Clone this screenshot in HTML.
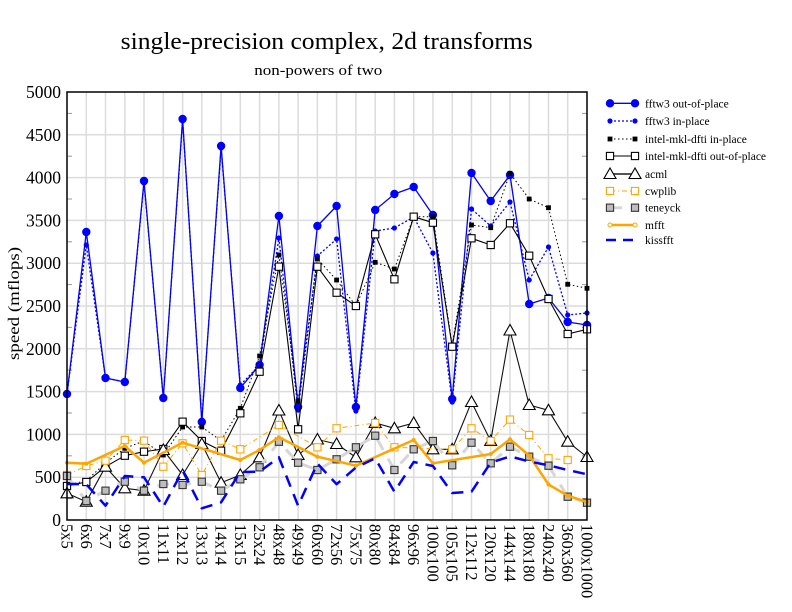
<!DOCTYPE html>
<html>
<head>
<meta charset="utf-8">
<style>
html,body{margin:0;padding:0;background:#fff;}
svg{display:block;}
text{font-family:"Liberation Serif","Times New Roman",serif;fill:#000;}
</style>
</head>
<body>
<svg width="792" height="612" viewBox="0 0 792 612" xmlns="http://www.w3.org/2000/svg">
<defs>
  <marker id="mFO" markerUnits="userSpaceOnUse" markerWidth="12" markerHeight="12" refX="6" refY="6" viewBox="0 0 12 12" overflow="visible"><circle cx="6" cy="6" r="4.2" fill="#0000ff"/></marker>
  <marker id="mFI" markerUnits="userSpaceOnUse" markerWidth="12" markerHeight="12" refX="6" refY="6" viewBox="0 0 12 12" overflow="visible"><circle cx="6" cy="6" r="2.6" fill="#0000ff"/></marker>
  <marker id="mII" markerUnits="userSpaceOnUse" markerWidth="12" markerHeight="12" refX="6" refY="6" viewBox="0 0 12 12" overflow="visible"><rect x="3.6" y="3.6" width="4.8" height="4.8" fill="#000"/></marker>
  <marker id="mIO" markerUnits="userSpaceOnUse" markerWidth="12" markerHeight="12" refX="6" refY="6" viewBox="0 0 12 12" overflow="visible"><rect x="2.4" y="2.4" width="7.2" height="7.2" fill="#fff" stroke="#000" stroke-width="1.1"/></marker>
  <marker id="mAC" markerUnits="userSpaceOnUse" markerWidth="14" markerHeight="14" refX="7" refY="7" viewBox="0 0 14 14" overflow="visible"><polygon points="7,1 1,11.5 13,11.5" fill="#fff" stroke="#000" stroke-width="1.1"/></marker>
  <marker id="mCW" markerUnits="userSpaceOnUse" markerWidth="12" markerHeight="12" refX="6" refY="6" viewBox="0 0 12 12" overflow="visible"><rect x="2.4" y="2.4" width="7.2" height="7.2" fill="#fff" stroke="#ffa500" stroke-width="1.1"/></marker>
  <marker id="mTE" markerUnits="userSpaceOnUse" markerWidth="12" markerHeight="12" refX="6" refY="6" viewBox="0 0 12 12" overflow="visible"><rect x="2.4" y="2.4" width="7.2" height="7.2" fill="#bdbdbd" stroke="#333" stroke-width="1.1"/></marker>
  <marker id="mMF" markerUnits="userSpaceOnUse" markerWidth="8" markerHeight="8" refX="4" refY="4" viewBox="0 0 8 8" overflow="visible"><circle cx="4" cy="4" r="2" fill="#ffa500"/></marker>
</defs>

<!-- title -->
<text x="120.7" y="49" font-size="24" textLength="412" lengthAdjust="spacingAndGlyphs">single-precision complex, 2d transforms</text>
<text x="254.3" y="75" font-size="15" textLength="128" lengthAdjust="spacingAndGlyphs">non-powers of two</text>

<!-- grid -->
<g stroke="#dcdcdc" stroke-width="1.5" fill="none">
  <line x1="67" y1="477.2" x2="587" y2="477.2"/>
  <line x1="67" y1="434.4" x2="587" y2="434.4"/>
  <line x1="67" y1="391.6" x2="587" y2="391.6"/>
  <line x1="67" y1="348.8" x2="587" y2="348.8"/>
  <line x1="67" y1="306" x2="587" y2="306"/>
  <line x1="67" y1="263.2" x2="587" y2="263.2"/>
  <line x1="67" y1="220.4" x2="587" y2="220.4"/>
  <line x1="67" y1="177.6" x2="587" y2="177.6"/>
  <line x1="67" y1="134.8" x2="587" y2="134.8"/>
  <line x1="86.3" y1="92" x2="86.3" y2="520"/>
  <line x1="105.5" y1="92" x2="105.5" y2="520"/>
  <line x1="124.8" y1="92" x2="124.8" y2="520"/>
  <line x1="144" y1="92" x2="144" y2="520"/>
  <line x1="163.3" y1="92" x2="163.3" y2="520"/>
  <line x1="182.6" y1="92" x2="182.6" y2="520"/>
  <line x1="201.8" y1="92" x2="201.8" y2="520"/>
  <line x1="221.1" y1="92" x2="221.1" y2="520"/>
  <line x1="240.3" y1="92" x2="240.3" y2="520"/>
  <line x1="259.6" y1="92" x2="259.6" y2="520"/>
  <line x1="278.9" y1="92" x2="278.9" y2="520"/>
  <line x1="298.1" y1="92" x2="298.1" y2="520"/>
  <line x1="317.4" y1="92" x2="317.4" y2="520"/>
  <line x1="336.6" y1="92" x2="336.6" y2="520"/>
  <line x1="355.9" y1="92" x2="355.9" y2="520"/>
  <line x1="375.2" y1="92" x2="375.2" y2="520"/>
  <line x1="394.4" y1="92" x2="394.4" y2="520"/>
  <line x1="413.7" y1="92" x2="413.7" y2="520"/>
  <line x1="432.9" y1="92" x2="432.9" y2="520"/>
  <line x1="452.2" y1="92" x2="452.2" y2="520"/>
  <line x1="471.5" y1="92" x2="471.5" y2="520"/>
  <line x1="490.7" y1="92" x2="490.7" y2="520"/>
  <line x1="510" y1="92" x2="510" y2="520"/>
  <line x1="529.2" y1="92" x2="529.2" y2="520"/>
  <line x1="548.5" y1="92" x2="548.5" y2="520"/>
  <line x1="567.7" y1="92" x2="567.7" y2="520"/>
</g>
<!-- minor ticks -->
<g stroke="#999" stroke-width="1">
  <line x1="67" y1="498.6" x2="72" y2="498.6"/><line x1="582" y1="498.6" x2="587" y2="498.6"/>
  <line x1="67" y1="455.8" x2="72" y2="455.8"/><line x1="582" y1="455.8" x2="587" y2="455.8"/>
  <line x1="67" y1="413" x2="72" y2="413"/><line x1="582" y1="413" x2="587" y2="413"/>
  <line x1="67" y1="370.2" x2="72" y2="370.2"/><line x1="582" y1="370.2" x2="587" y2="370.2"/>
  <line x1="67" y1="327.4" x2="72" y2="327.4"/><line x1="582" y1="327.4" x2="587" y2="327.4"/>
  <line x1="67" y1="284.6" x2="72" y2="284.6"/><line x1="582" y1="284.6" x2="587" y2="284.6"/>
  <line x1="67" y1="241.8" x2="72" y2="241.8"/><line x1="582" y1="241.8" x2="587" y2="241.8"/>
  <line x1="67" y1="199" x2="72" y2="199"/><line x1="582" y1="199" x2="587" y2="199"/>
  <line x1="67" y1="156.2" x2="72" y2="156.2"/><line x1="582" y1="156.2" x2="587" y2="156.2"/>
  <line x1="67" y1="113.4" x2="72" y2="113.4"/><line x1="582" y1="113.4" x2="587" y2="113.4"/>
</g>

<!-- series -->
<g fill="none" stroke-linejoin="round">
  <!-- fftw3 out-of-place -->
  <polyline stroke="#0000ff" stroke-width="1.3" marker-start="url(#mFO)" marker-mid="url(#mFO)" marker-end="url(#mFO)"
    points="67,394 86.3,232 105.5,378 124.8,382 144,181 163.3,398 182.6,119 201.8,422 221.1,146 240.3,388 259.6,365 278.9,216 298.1,407 317.4,226 336.6,206 355.9,407 375.2,210 394.4,194 413.7,187 432.9,215 452.2,399 471.5,173 490.7,201 510,175 529.2,304 548.5,298 567.7,322 587,325"/>
  <!-- fftw3 in-place -->
  <polyline stroke="#0000ff" stroke-width="1.3" stroke-dasharray="2,2" marker-start="url(#mFI)" marker-mid="url(#mFI)" marker-end="url(#mFI)"
    points="67,394 86.3,245 105.5,378 124.8,382 144,183 163.3,398 182.6,121 201.8,420 221.1,148 240.3,385 259.6,365 278.9,238 298.1,410 317.4,256 336.6,239 355.9,411 375.2,231 394.4,228 413.7,217 432.9,253 452.2,402 471.5,209 490.7,226 510,202 529.2,280 548.5,247 567.7,315 587,313"/>
  <!-- intel in-place -->
  <polyline stroke="#000" stroke-width="1" stroke-dasharray="1.5,2.5" marker-start="url(#mII)" marker-mid="url(#mII)" marker-end="url(#mII)"
    points="67,485 86.3,480.7 105.5,463 124.8,448.3 144,441 163.3,455 182.6,427 201.8,427 221.1,440.7 240.3,408.3 259.6,356 278.9,255 298.1,401 317.4,259 336.6,280 355.9,306 375.2,262.3 394.4,269 413.7,216.7 432.9,216.7 452.2,345 471.5,225 490.7,227.7 510,173.3 529.2,199 548.5,207.7 567.7,284.3 587,288.3"/>
  <!-- intel out-of-place -->
  <polyline stroke="#000" stroke-width="1.1" marker-start="url(#mIO)" marker-mid="url(#mIO)" marker-end="url(#mIO)"
    points="67,486 86.3,482 105.5,466.7 124.8,455.7 144,451.7 163.3,449 182.6,421.7 201.8,441 221.1,450.7 240.3,413.3 259.6,371.7 278.9,266.7 298.1,429.3 317.4,266.7 336.6,292.7 355.9,306 375.2,234.3 394.4,279.3 413.7,216.7 432.9,222.7 452.2,346.7 471.5,238.3 490.7,245 510,223.3 529.2,255.7 548.5,299 567.7,334 587,329.3"/>
  <!-- acml -->
  <polyline stroke="#111" stroke-width="1.1" marker-start="url(#mAC)" marker-mid="url(#mAC)" marker-end="url(#mAC)"
    points="67,493.3 86.3,501.7 105.5,466.7 124.8,488.3 144,490.7 163.3,450 182.6,475 201.8,444 221.1,482.7 240.3,475 259.6,457.3 278.9,410.5 298.1,455 317.4,439.5 336.6,444 355.9,457.3 375.2,423 394.4,428.3 413.7,423 432.9,449.3 452.2,449.3 471.5,402 490.7,441 510,330.5 529.2,405 548.5,410.3 567.7,441.7 587,457"/>
  <!-- cwplib -->
  <polyline stroke="#ffa500" stroke-width="1" stroke-dasharray="5,3,1,3" marker-start="url(#mCW)" marker-mid="url(#mCW)" marker-end="url(#mCW)"
    points="67,475 86.3,466 105.5,460.7 124.8,440 144,440.7 163.3,466.7 182.6,443.3 201.8,475 221.1,440.7 240.3,449.3 278.9,425 317.4,447.3 336.6,428.3 375.2,423 394.4,447.3 452.2,449.3 471.5,428.3 490.7,441 510,419.6 529.2,435 548.5,458.3 567.7,460"/>
  <!-- teneyck -->
  <polyline stroke="#d6d6d6" stroke-width="3" stroke-dasharray="12,10" marker-start="url(#mTE)" marker-mid="url(#mTE)" marker-end="url(#mTE)"
    points="67,476 86.3,501 105.5,490.7 124.8,481.7 144,490.7 163.3,484 182.6,485 201.8,481.7 221.1,490.7 240.3,479.3 259.6,467.3 278.9,441.7 298.1,462.7 317.4,470 336.6,459.3 355.9,447.3 375.2,435.7 394.4,470 413.7,449.3 432.9,441 452.2,465.3 471.5,442.7 490.7,463.3 510,446.7 529.2,456.7 548.5,465.7 567.7,496.7 587,502.7"/>
  <!-- mfft -->
  <polyline stroke="#ffa500" stroke-width="2.5" marker-start="url(#mMF)" marker-mid="url(#mMF)" marker-end="url(#mMF)"
    points="67,462.7 86.3,463.7 124.8,446 144,462.7 182.6,442.7 240.3,460 259.6,450 278.9,437.3 317.4,456.7 355.9,465.7 413.7,440 432.9,463.3 490.7,454 510,439.3 529.2,455.5 548.5,484.5 567.7,495.7 587,502"/>
  <!-- kissfft -->
  <polyline stroke="#0000ff" stroke-width="2.5" stroke-dasharray="12,8"
    points="67,484 86.3,484.3 105.5,505.7 124.8,476 144,477.3 163.3,506.7 182.6,470.7 201.8,508.3 221.1,502.3 240.3,472 259.6,471.7 278.9,457.3 298.1,505.7 317.4,463.5 336.6,484.2 355.9,467.5 375.2,458.3 394.4,491.7 413.7,462 432.9,466 452.2,493 471.5,491.7 490.7,462.7 510,456.4 529.2,461.5 548.5,465.3 567.7,470 587,474.3"/>
</g>

<!-- frame -->
<rect x="67" y="92" width="520" height="428" fill="none" stroke="#000" stroke-width="1.5"/>

<!-- y tick labels -->
<g font-size="17.5" text-anchor="end">
  <text x="61" y="526">0</text>
  <text x="61" y="483.2">500</text>
  <text x="61" y="440.4">1000</text>
  <text x="61" y="397.6">1500</text>
  <text x="61" y="354.8">2000</text>
  <text x="61" y="312">2500</text>
  <text x="61" y="269.2">3000</text>
  <text x="61" y="226.4">3500</text>
  <text x="61" y="183.6">4000</text>
  <text x="61" y="140.8">4500</text>
  <text x="61" y="98">5000</text>
</g>

<!-- y axis label -->
<text transform="translate(19,360) rotate(-90)" font-size="16" textLength="113" lengthAdjust="spacingAndGlyphs">speed (mflops)</text>

<!-- x tick labels -->
<g font-size="16.5">
  <text transform="translate(61.5,524) rotate(90)">5x5</text>
  <text transform="translate(80.8,524) rotate(90)">6x6</text>
  <text transform="translate(100,524) rotate(90)">7x7</text>
  <text transform="translate(119.3,524) rotate(90)">9x9</text>
  <text transform="translate(138.5,524) rotate(90)">10x10</text>
  <text transform="translate(157.8,524) rotate(90)">11x11</text>
  <text transform="translate(177.1,524) rotate(90)">12x12</text>
  <text transform="translate(196.3,524) rotate(90)">13x13</text>
  <text transform="translate(215.6,524) rotate(90)">14x14</text>
  <text transform="translate(234.8,524) rotate(90)">15x15</text>
  <text transform="translate(254.1,524) rotate(90)">25x24</text>
  <text transform="translate(273.4,524) rotate(90)">48x48</text>
  <text transform="translate(292.6,524) rotate(90)">49x49</text>
  <text transform="translate(311.9,524) rotate(90)">60x60</text>
  <text transform="translate(331.1,524) rotate(90)">72x56</text>
  <text transform="translate(350.4,524) rotate(90)">75x75</text>
  <text transform="translate(369.7,524) rotate(90)">80x80</text>
  <text transform="translate(388.9,524) rotate(90)">84x84</text>
  <text transform="translate(408.2,524) rotate(90)">96x96</text>
  <text transform="translate(427.4,524) rotate(90)">100x100</text>
  <text transform="translate(446.7,524) rotate(90)">105x105</text>
  <text transform="translate(466,524) rotate(90)">112x112</text>
  <text transform="translate(485.2,524) rotate(90)">120x120</text>
  <text transform="translate(504.5,524) rotate(90)">144x144</text>
  <text transform="translate(523.7,524) rotate(90)">180x180</text>
  <text transform="translate(543,524) rotate(90)">240x240</text>
  <text transform="translate(562.2,524) rotate(90)">360x360</text>
  <text transform="translate(581.5,524) rotate(90)">1000x1000</text>
</g>

<!-- legend -->
<g fill="none">
  <line x1="610" y1="103.3" x2="635" y2="103.3" stroke="#0000ff" stroke-width="1.3"/>
  <circle cx="610" cy="103.3" r="4.2" fill="#0000ff"/><circle cx="635" cy="103.3" r="4.2" fill="#0000ff"/>

  <line x1="610" y1="121" x2="635" y2="121" stroke="#0000ff" stroke-width="1.3" stroke-dasharray="2,2"/>
  <circle cx="610" cy="121" r="2.6" fill="#0000ff"/><circle cx="635" cy="121" r="2.6" fill="#0000ff"/>

  <line x1="610" y1="139" x2="635" y2="139" stroke="#000" stroke-width="1" stroke-dasharray="1.5,2.5"/>
  <rect x="607.6" y="136.6" width="4.8" height="4.8" fill="#000"/><rect x="632.6" y="136.6" width="4.8" height="4.8" fill="#000"/>

  <line x1="610" y1="156" x2="635" y2="156" stroke="#000" stroke-width="1.1"/>
  <rect x="606.4" y="152.4" width="7.2" height="7.2" fill="#fff" stroke="#000" stroke-width="1.1"/><rect x="631.4" y="152.4" width="7.2" height="7.2" fill="#fff" stroke="#000" stroke-width="1.1"/>

  <line x1="610" y1="174" x2="635" y2="174" stroke="#555" stroke-width="2"/>
  <polygon points="610,168 604,178.5 616,178.5" fill="#fff" stroke="#000" stroke-width="1.1"/>
  <polygon points="635,168 629,178.5 641,178.5" fill="#fff" stroke="#000" stroke-width="1.1"/>

  <line x1="610" y1="191" x2="635" y2="191" stroke="#ffa500" stroke-width="1" stroke-dasharray="5,3,1,3"/>
  <rect x="606.4" y="187.4" width="7.2" height="7.2" fill="#fff" stroke="#ffa500" stroke-width="1.1"/><rect x="631.4" y="187.4" width="7.2" height="7.2" fill="#fff" stroke="#ffa500" stroke-width="1.1"/>

  <line x1="610" y1="207.7" x2="635" y2="207.7" stroke="#d6d6d6" stroke-width="3" stroke-dasharray="12,10"/>
  <rect x="606.4" y="204.1" width="7.2" height="7.2" fill="#bdbdbd" stroke="#333" stroke-width="1.1"/><rect x="631.4" y="204.1" width="7.2" height="7.2" fill="#bdbdbd" stroke="#333" stroke-width="1.1"/>

  <line x1="610" y1="225" x2="635" y2="225" stroke="#ffa500" stroke-width="2.5"/>
  <circle cx="610" cy="225" r="2" fill="#fff" stroke="#ffa500" stroke-width="1"/><circle cx="635" cy="225" r="2" fill="#fff" stroke="#ffa500" stroke-width="1"/>

  <line x1="606" y1="240" x2="639" y2="240" stroke="#0000ff" stroke-width="2.5" stroke-dasharray="10,7"/>
</g>
<g font-size="11.5">
  <text x="645" y="107.3">fftw3 out-of-place</text>
  <text x="645" y="125">fftw3 in-place</text>
  <text x="645" y="143">intel-mkl-dfti in-place</text>
  <text x="645" y="160">intel-mkl-dfti out-of-place</text>
  <text x="645" y="178">acml</text>
  <text x="645" y="195">cwplib</text>
  <text x="645" y="211.7">teneyck</text>
  <text x="645" y="229">mfft</text>
  <text x="645" y="244">kissfft</text>
</g>
</svg>
</body>
</html>
